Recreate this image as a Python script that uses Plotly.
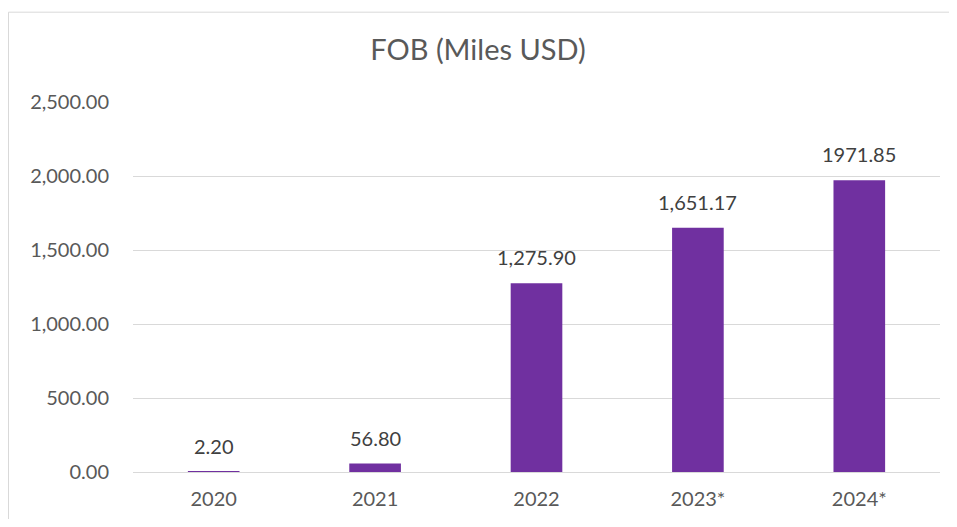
import plotly.graph_objects as go

categories = ["2020", "2021", "2022", "2023*", "2024*"]
values = [2.20, 56.80, 1275.90, 1651.17, 1971.85]
value_labels = ["2.20", "56.80", "1,275.90", "1,651.17", "1971.85"]
y_ticks = [0, 500, 1000, 1500, 2000, 2500]
y_tick_labels = ["0.00", "500.00", "1,000.00", "1,500.00", "2,000.00", "2,500.00"]

FONT = "Lato, 'Open Sans', sans-serif"

fig = go.Figure()
fig.add_trace(go.Bar(
    x=categories, y=values,
    marker=dict(color="#7030A0", line=dict(width=0)),
    hoverinfo="x+y",
))

for i, (v, t) in enumerate(zip(values, value_labels)):
    fig.add_annotation(x=i, y=v, xref="x", yref="y", text=t, showarrow=False, yanchor="bottom",
                       yshift=12, font=dict(family=FONT, size=20, color="#404040"))

W, H = 941, 511
ml, mr, mt, mb = 125, 9, 94, 38
pw, ph = W - ml - mr, H - mt - mb
fx0, fx1 = (0.5 - ml) / pw, (945 - ml) / pw
fy0, fy1 = -(H + 20 - (H - mb)) / ph, ((H - mb) - 2) / ph
frame = dict(color="#d9d9d9", width=1)
fig.add_shape(type="line", xref="paper", yref="paper", x0=fx0, x1=fx0, y0=fy0, y1=fy1, line=frame, layer="below")
fig.add_shape(type="line", xref="paper", yref="paper", x0=fx1, x1=fx1, y0=fy0, y1=fy1, line=frame, layer="below")
fig.add_shape(type="line", xref="paper", yref="paper", x0=fx0, x1=fx1, y0=fy1, y1=fy1, line=frame, layer="below")

fig.update_layout(
    width=W, height=H,
    margin=dict(l=ml, r=mr, t=mt, b=mb),
    paper_bgcolor="white", plot_bgcolor="white",
    title=dict(text="FOB (Miles USD)", x=(478 - 8) / W, xanchor="center", y=1 - 42 / H, yanchor="middle",
               font=dict(family=FONT, size=29, color="#595959")),
    bargap=0.68,
    showlegend=False,
    font=dict(family=FONT, size=20, color="#595959"),
    xaxis=dict(type="category", range=[-0.5, len(categories) - 0.5],
               showgrid=False, showline=True, linecolor="#d9d9d9", linewidth=1, layer="above traces",
               ticks="", ticklabelstandoff=9, tickfont=dict(size=20, color="#595959")),
    yaxis=dict(range=[0, 2500], tickvals=y_ticks, ticktext=y_tick_labels,
               showgrid=True, gridcolor="#d9d9d9", gridwidth=1, zeroline=False,
               showline=False, ticks="", ticklabelstandoff=23,
               tickfont=dict(size=20, color="#595959")),
)

fig.write_html("out.html")
